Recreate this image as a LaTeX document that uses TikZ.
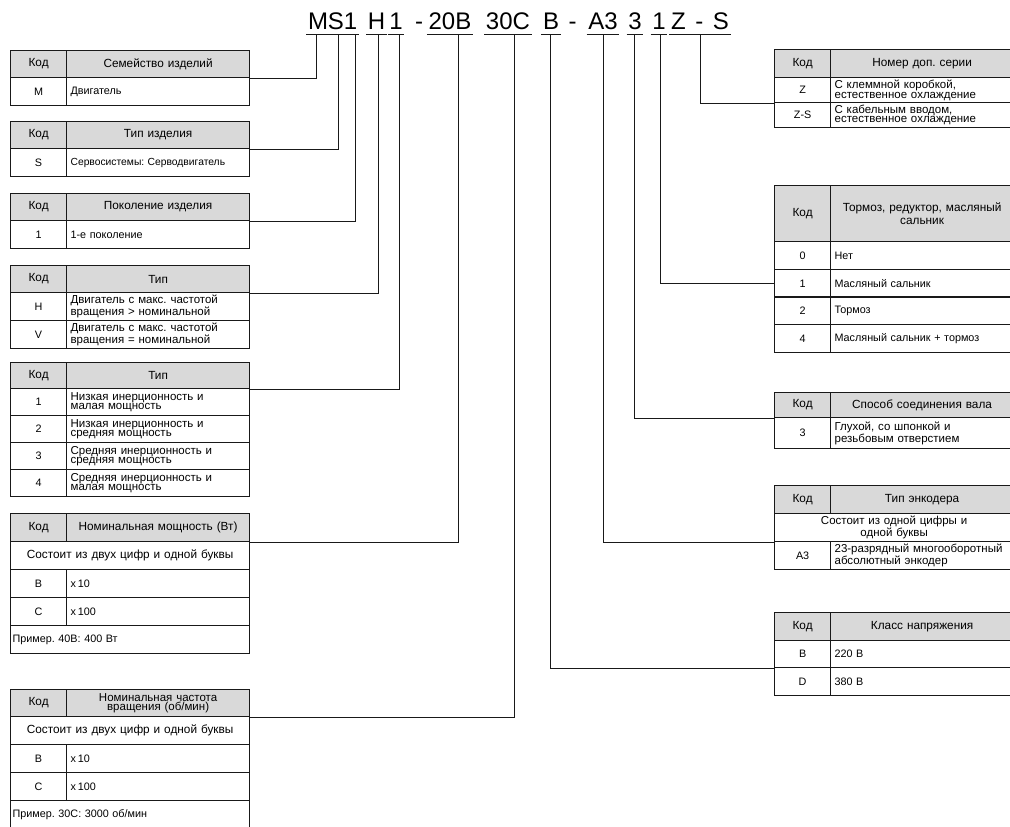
\documentclass[tikz,border=0pt]{standalone}
\usepackage{fontspec}
\setmainfont{Liberation Sans}
\frenchspacing
\definecolor{hdrgray}{RGB}{217,217,217}
\definecolor{linec}{RGB}{25,25,25}
\newcommand\cellfont{\fontsize{10.8}{12}\selectfont}
\newcommand\headfont{\fontsize{11.8}{13}\selectfont}
\newcommand\twofont{\fontsize{11.5}{9.6}\selectfont}
\newcommand\smallcell{\fontsize{10.3}{11}\selectfont}
\newcommand\titlefont{\fontsize{24}{26}\selectfont}

\begin{document}
\begin{tikzpicture}[x=1pt,y=-1pt,
    every node/.style={inner sep=0pt,font=\cellfont},
    cell/.style={draw=linec,line width=1.2pt,anchor=north west,minimum height=#1},
    cell/.default=28,
    kod/.style={cell=#1,minimum width=56,align=center},
    kod/.default=28,
    hkod/.style={kod=#1,fill=hdrgray,font=\headfont},
    hkod/.default=28,
    desc/.style={cell=#1,text width=175,inner xsep=4,align=left},
    desc/.default=28,
    hdr/.style={cell=#1,text width=175,inner xsep=4,align=center,fill=hdrgray,font=\headfont},
    hdr/.default=28,
    wide/.style={cell=#1,text width=231,inner xsep=4,align=center,font=\headfont},
    wide/.default=28,
    example/.style={cell=#1,text width=235,inner xsep=2,align=left},
    example/.default=28,
    conn/.style={draw=linec,line width=1pt},
    seg/.style={anchor=base,font=\titlefont,text depth=4.5,inner xsep=1.5}]
\useasboundingbox (0,0) rectangle (1010,827);

% код модели
\foreach \nm/\txt/\xx in {sM/M/318,sS/S/336,sOne/1/350.5,sH/H/376.5,sGen/1/396,
    s20B/20B/450,s30C/30C/508,sB/B/551,sA3/A3/603,sSh/3/635,sBr/1/659} {
  \node[seg] (\nm) at (\xx,29.5) {\txt};
  \draw[conn] (\nm.south west) -- (\nm.south east);
}
\node[seg] (sZS) at (700,29.5) {Z\hspace{0.4em}-\hspace{0.4em}S};
\draw[conn] (sZS.south west) -- (sZS.south east);
\node[anchor=base,font=\titlefont] (dashA) at (419,29.5) {-};
\node[anchor=base,font=\titlefont] (dashB) at (572.5,29.5) {-};

% семейство
\node[hkod=27] (t1k) at (10,50) {Код};
\node[hdr=27] (t1h) at (66,50) {Семейство изделий};
\node[kod] (t1c) at (10,77) {M};
\node[desc] (t1d) at (66,77) {Двигатель};

% тип изделия
\node[hkod=27] (t2k) at (10,121) {Код};
\node[hdr=27] (t2h) at (66,121) {Тип изделия};
\node[kod] (t2c) at (10,148) {S};
\node[desc,font=\smallcell] (t2d) at (66,148) {Сервосистемы: Серводвигатель};

% поколение
\node[hkod=27] (t3k) at (10,193) {Код};
\node[hdr=27] (t3h) at (66,193) {Поколение изделия};
\node[kod] (t3c) at (10,220) {1};
\node[desc] (t3d) at (66,220) {1-е поколение};

% тип H/V
\node[hkod=27] (t4k) at (10,265) {Код};
\node[hdr=27] (t4h) at (66,265) {Тип};
\foreach \yy/\cc/\dd [count=\i] in {292/H/{Двигатель с макс. частотой\\вращения > номинальной},
    320/V/{Двигатель с макс. частотой\\вращения = номинальной}} {
  \node[kod] (t4c\i) at (10,\yy) {\cc};
  \node[desc,font=\twofont] (t4d\i) at (66,\yy) {\dd};
}

% тип 1..4
\node[hkod=26] (t5k) at (10,362) {Код};
\node[hdr=26] (t5h) at (66,362) {Тип};
\foreach \yy/\cc/\dd [count=\i] in {388/1/{Низкая инерционность и\\малая мощность},
    415/2/{Низкая инерционность и\\средняя мощность},
    442/3/{Средняя инерционность и\\средняя мощность},
    469/4/{Средняя инерционность и\\малая мощность}} {
  \node[kod=27] (t5c\i) at (10,\yy) {\cc};
  \node[desc=27,font=\twofont] (t5d\i) at (66,\yy) {\dd};
}

% мощность
\node[hkod] (t6k) at (10,513) {Код};
\node[hdr] (t6h) at (66,513) {Номинальная мощность (Вт)};
\node[wide] (t6w) at (10,541) {Состоит из двух цифр и одной буквы};
\node[kod] (t6c1) at (10,569) {B};
\node[desc] (t6d1) at (66,569) {x\,10};
\node[kod] (t6c2) at (10,597) {C};
\node[desc] (t6d2) at (66,597) {x\,100};
\node[example] (t6e) at (10,625) {Пример. 40B: 400 Вт};

% частота
\node[hkod=27] (t7k) at (10,689) {Код};
\node[hdr=27,font=\twofont] (t7h) at (66,689) {Номинальная частота\\вращения (об/мин)};
\node[wide] (t7w) at (10,716) {Состоит из двух цифр и одной буквы};
\node[kod] (t7c1) at (10,744) {B};
\node[desc] (t7d1) at (66,744) {x\,10};
\node[kod] (t7c2) at (10,772) {C};
\node[desc] (t7d2) at (66,772) {x\,100};
\node[example] (t7e) at (10,800) {Пример. 30C: 3000 об/мин};

% доп. серия
\node[hkod] (r1k) at (774,49) {Код};
\node[hdr] (r1h) at (830,49) {Номер доп. серии};
\node[kod=25] (r1c1) at (774,77) {Z};
\node[desc=25,font=\twofont] (r1d1) at (830,77) {С клеммной коробкой,\\естественное охлаждение};
\node[kod=25] (r1c2) at (774,102) {Z-S};
\node[desc=25,font=\twofont] (r1d2) at (830,102) {С кабельным вводом,\\естественное охлаждение};

% тормоз
\node[hkod=56] (r2k) at (774,185) {Код};
\node[hdr=56] (r2h) at (830,185) {Тормоз, редуктор, масляный\\сальник};
\foreach \yy/\cc/\dd [count=\i] in {241/0/Нет,269/1/Масляный сальник,
    296/2/Тормоз,324/4/Масляный сальник + тормоз} {
  \node[kod] (r2c\i) at (774,\yy) {\cc};
  \node[desc] (r2d\i) at (830,\yy) {\dd};
}

% вал
\node[hkod=25] (r3k) at (774,392) {Код};
\node[hdr=25] (r3h) at (830,392) {Способ соединения вала};
\node[kod=31] (r3c) at (774,417) {3};
\node[desc=31,font=\twofont] (r3d) at (830,417) {Глухой, со шпонкой и\\резьбовым отверстием};

% энкодер
\node[hkod] (r4k) at (774,485) {Код};
\node[hdr] (r4h) at (830,485) {Тип энкодера};
\node[wide,font=\twofont] (r4w) at (774,513) {Состоит из одной цифры и\\одной буквы};
\node[kod] (r4c) at (774,541) {A3};
\node[desc,font=\twofont] (r4d) at (830,541) {23-разрядный многооборотный\\абсолютный энкодер};

% напряжение
\node[hkod] (r5k) at (774,612) {Код};
\node[hdr] (r5h) at (830,612) {Класс напряжения};
\node[kod=27] (r5c1) at (774,640) {B};
\node[desc=27] (r5d1) at (830,640) {220 В};
\node[kod=28] (r5c2) at (774,667) {D};
\node[desc=28] (r5d2) at (830,667) {380 В};

% выноски
\draw[conn] ([xshift=-2]sM.south) |- (t1h.south east);
\draw[conn] ([xshift=2]sS.south) |- (t2h.south east);
\draw[conn] ([xshift=4.5]sOne.south) |- (t3h.south east);
\draw[conn] ([xshift=1.5]sH.south) |- (t4h.south east);
\draw[conn] ([xshift=3]sGen.south) |- (t5h.south east);
\draw[conn] ([xshift=8]s20B.south) |- (t6h.south east);
\draw[conn] ([xshift=6]s30C.south) |- (t7h.south east);
\draw[conn] ([xshift=-1]sB.south) |- (r5c1.south west);
\draw[conn] (sA3.south) |- (r4w.south west);
\draw[conn] ([xshift=-1]sSh.south) |- (r3k.south west);
\draw[conn] ([xshift=1]sBr.south) |- (r2c2.west);
\draw[conn] (sZS.south) |- (r1c1.south west);
\end{tikzpicture}
\end{document}
